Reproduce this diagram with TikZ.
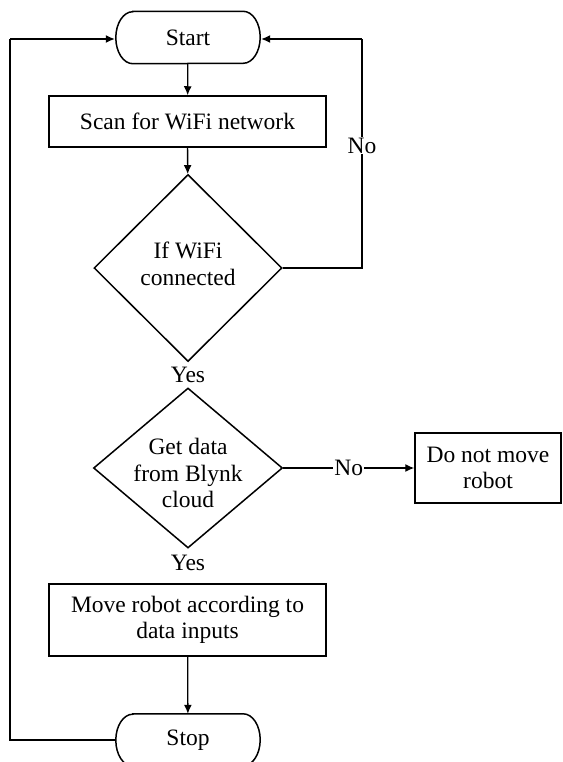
\documentclass[tikz,border=0pt]{standalone}
\usepackage{fontspec}
\setmainfont{Liberation Serif}
\usetikzlibrary{shapes.geometric,arrows.meta}
\newcommand{\termoutline}[1]{%
  \draw[line width=1.5pt] ([xshift=17pt]#1.north west) -- ([xshift=-17pt]#1.north east)
    arc[start angle=90, end angle=-90, x radius=17pt, y radius=26pt]
    -- ([xshift=17pt]#1.south west)
    arc[start angle=270, end angle=90, x radius=17pt, y radius=26pt] -- cycle;}
\begin{document}
\begin{tikzpicture}[x=1pt,y=-1pt,
  every node/.style={font=\fontsize{23.5}{26.5}\selectfont, align=center},
  term/.style={rectangle, minimum width=144pt, minimum height=52pt, inner sep=0pt},
  proc/.style={draw, line width=1.5pt, rectangle, inner sep=0pt},
  dec/.style={draw, line width=1.5pt, diamond, inner sep=0pt},
  conn/.style={line width=1.3pt},
  arr/.style={conn, -{Latex[length=9pt,width=8pt]}},
  lbl/.style={fill=white, inner sep=1pt}]
\useasboundingbox (0,0) rectangle (562,762);
\node[term] (start) at (188,37.5) {Start};
\termoutline{start}
\node[proc, minimum width=277pt, minimum height=51pt] (scan) at (187.5,121.5) {Scan for WiFi network};
\node[dec, minimum width=188pt, minimum height=187pt, label={[align=center, yshift=4pt]center:If WiFi\\connected}] (d1) at (188,268) {};
\node (yes1) at (188,375) {Yes};
\node[dec, minimum width=189pt, minimum height=160pt, label={[align=center, yshift=-5pt]center:Get data\\from Blynk\\cloud}] (d2) at (188,468) {};
\node[proc, minimum width=146pt, minimum height=70pt] (dnm) at (488,468) {Do not move\\robot};
\node (yes2) at (188,563) {Yes};
\node[proc, minimum width=277pt, minimum height=72pt] (move) at (187.5,620) {Move robot according to\\data inputs};
\node[term] (stop) at (188,740) {Stop};
\termoutline{stop}
\coordinate (r1) at (362,268);
\coordinate (r2) at (362,39);
\coordinate (l1) at (10,740);
\coordinate (l2) at (10,39);
\draw[arr] (start) -- (scan);
\draw[arr] (scan) -- (d1);
\draw[conn] (d1.east) -- (r1) -- node[lbl, pos=0.535] {No} (r2);
\draw[arr] (r2) -- ([xshift=1pt]start.east |- r2);
\draw[arr] (d2.east) -- node[lbl] {No} (dnm.west);
\draw[arr] (move) -- (stop);
\draw[conn] (stop.west) -- (l1) -- (l2);
\draw[arr] (l2) -- ([xshift=-1pt]start.west |- l2);
\end{tikzpicture}
\end{document}
